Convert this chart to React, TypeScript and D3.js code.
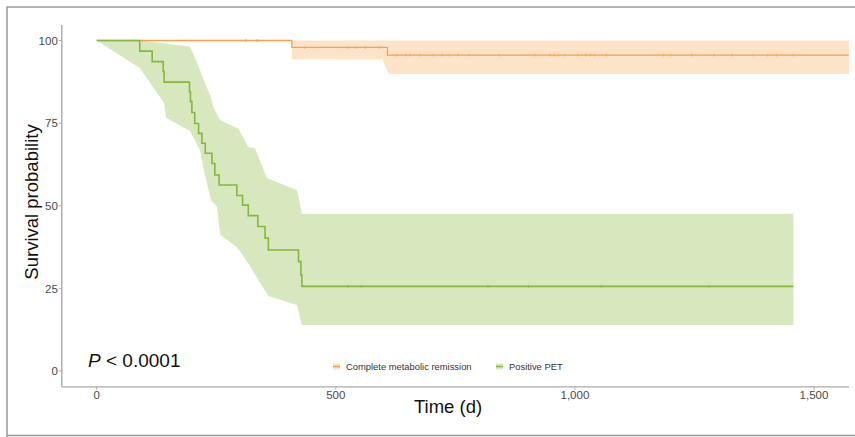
import * as d3 from "d3";

// Kaplan-Meier steps (time in days, survival in %)
const cmrTime = [0, 408, 608, 1573];
const cmrSurv = [100, 97.9, 95.6, 95.6];
const cmrCensor = [
  312, 335, 435, 526, 542, 562, 591, 627, 646, 655, 676, 704, 722, 737, 756,
  779, 842, 916, 948, 958, 966, 979, 1006, 1023, 1033, 1041, 1066, 1185, 1200,
  1244, 1291, 1328, 1373, 1403, 1422, 1457,
];
const cmrBandTime = [408, 597, 611, 1573];
const cmrBandLow = [94.3, 94.3, 89.9, 89.9];
const cmrBandHigh = [100, 100, 100, 100];

const petTime = [
  0, 90, 116, 139, 141, 194, 196, 199, 205, 213, 220, 227, 241, 247, 256, 293,
  305, 317, 337, 352, 359, 422, 427, 429, 1457,
];
const petSurv = [
  100, 96.8, 93.6, 90.6, 87.4, 84.5, 81.5, 78.2, 74.9, 71.9, 68.9, 65.9, 62.8,
  59.3, 56.3, 53.1, 50.2, 47.0, 43.7, 40.2, 36.6, 33.1, 29.0, 25.6, 25.6,
];
const petCensor = [526, 553, 818, 903, 1055, 1281];
const petHighTime = [0, 90, 195, 212, 224, 237, 245, 258, 296, 317, 331, 356, 419, 429, 1457];
const petHigh = [100, 100, 98.2, 92.6, 88.0, 83.5, 79.6, 75.9, 73.4, 67.8, 67.4, 58.4, 54.7, 47.6, 47.6];
const petLowTime = [0, 90, 141, 145, 195, 216, 224, 239, 252, 258, 293, 317, 342, 359, 419, 429, 1457];
const petLow = [100, 91.7, 81.1, 76.6, 72.6, 66.9, 60.8, 51.7, 49.6, 41.2, 37.5, 32.6, 26.6, 22.7, 20.0, 13.9, 13.9];

const xTicks = [0, 500, 1000, 1500];
const yTicks = [0, 25, 50, 75, 100];
const seriesNames = ["Complete metabolic remission", "Positive PET"];
const colors = ["#F8A148", "#86B83A"];

const W = 855;
const H = 437;
const font = "'Liberation Sans', Arial, sans-serif";

export default function App() {
  const x = d3.scaleLinear().domain([0, 1500]).range([96.7, 814]);
  const y = d3.scaleLinear().domain([0, 100]).range([371, 40.5]);
  const xLim = [-73, 1573];
  const yLim = [-4.8, 104.7];

  const step = d3
    .line<[number, number]>()
    .x((d) => x(d[0]))
    .y((d) => y(d[1]))
    .curve(d3.curveStepAfter);

  const zip = (a: number[], b: number[]) => a.map((v, i) => [v, b[i]] as [number, number]);

  const bandPath = (tHi: number[], hi: number[], tLo: number[], lo: number[]) => {
    const pts = zip(tHi, hi).concat(zip(tLo, lo).reverse());
    return d3.line<[number, number]>().x((d) => x(d[0])).y((d) => y(d[1]))(pts) + "Z";
  };

  const fmt = d3.format(",");
  const cmrAt = (t: number) => cmrSurv[d3.bisectRight(cmrTime, t) - 1];
  const petAt = (t: number) => petSurv[d3.bisectRight(petTime, t) - 1];

  const x0 = x(xLim[0]);
  const x1 = x(xLim[1]);
  const yTop = y(yLim[1]);
  const yBot = y(yLim[0]);

  return (
    <div style={{ position: "absolute", left: 0, top: 0 }}>
      <svg width={W} height={H} style={{ display: "block", background: "#fff" }}>
        {/* frame */}
        <path d={`M7,${H} V7 H${W}`} fill="none" stroke="#999" strokeWidth={1.5} />
        <line x1={7} x2={W} y1={435.5} y2={435.5} stroke="#999" strokeWidth={1.5} />

        {/* bands, curves and censor marks */}
        <path d={bandPath(cmrBandTime, cmrBandHigh, cmrBandTime, cmrBandLow)} fill={colors[0]} fillOpacity={0.3} />
        <path d={step(zip(cmrTime, cmrSurv)) || ""} fill="none" stroke={colors[0]} strokeWidth={1.3} />
        {cmrCensor.map((t) => (
          <line key={"c" + t} x1={x(t)} x2={x(t)} y1={y(cmrAt(t)) - 1.5} y2={y(cmrAt(t)) + 1.5} stroke={colors[0]} strokeOpacity={0.7} strokeWidth={1} />
        ))}
        <path d={bandPath(petHighTime, petHigh, petLowTime, petLow)} fill={colors[1]} fillOpacity={0.33} />
        <path d={step(zip(petTime, petSurv)) || ""} fill="none" stroke={colors[1]} strokeWidth={1.6} />
        {petCensor.map((t) => (
          <line key={"p" + t} x1={x(t)} x2={x(t)} y1={y(petAt(t)) - 1.5} y2={y(petAt(t)) + 1.5} stroke={colors[1]} strokeOpacity={0.7} strokeWidth={1} />
        ))}

        {/* axes */}
        <line x1={x0} x2={x0} y1={yTop} y2={yBot} stroke="#aaa" strokeWidth={1.4} />
        <line x1={x0} x2={x1} y1={yBot} y2={yBot} stroke="#aaa" strokeWidth={1.4} />
        {yTicks.map((t) => (
          <g key={"y" + t}>
            <line x1={x0 - 3} x2={x0} y1={y(t)} y2={y(t)} stroke="#aaa" />
            <text x={x0 - 4} y={y(t)} dy="0.36em" textAnchor="end" fontFamily={font} fontSize={11.5} fill="#4a4a4a">
              {t}
            </text>
          </g>
        ))}
        {xTicks.map((t) => (
          <g key={"x" + t}>
            <line x1={x(t)} x2={x(t)} y1={yBot} y2={yBot + 3} stroke="#aaa" />
            <text x={x(t)} y={399} textAnchor="middle" fontFamily={font} fontSize={11.5} fill="#4a4a4a">
              {fmt(t)}
            </text>
          </g>
        ))}
        <text x={448} y={413} textAnchor="middle" fontFamily={font} fontSize={18.5} fill="#111">
          Time (d)
        </text>
        <text transform="translate(38,202) rotate(-90)" textAnchor="middle" fontFamily={font} fontSize={18.5} fill="#111">
          Survival probability
        </text>

        {/* p-value */}
        <text x={88} y={366.5} fontFamily={font} fontSize={19} fill="#111">
          <tspan fontStyle="italic">P</tspan> &lt; 0.0001
        </text>

        {/* legend */}
        {seriesNames.map((name, i) => {
          const lx = [333, 496][i];
          return (
            <g key={name}>
              <rect x={lx} y={363.5} width={7} height={6} fill={colors[i]} fillOpacity={0.3} />
              <line x1={lx} x2={lx + 7} y1={366.5} y2={366.5} stroke={colors[i]} strokeWidth={1.6} />
              <text x={lx + 13} y={369.8} fontFamily={font} fontSize={9.4} fill="#333">
                {name}
              </text>
            </g>
          );
        })}
      </svg>
    </div>
  );
}
